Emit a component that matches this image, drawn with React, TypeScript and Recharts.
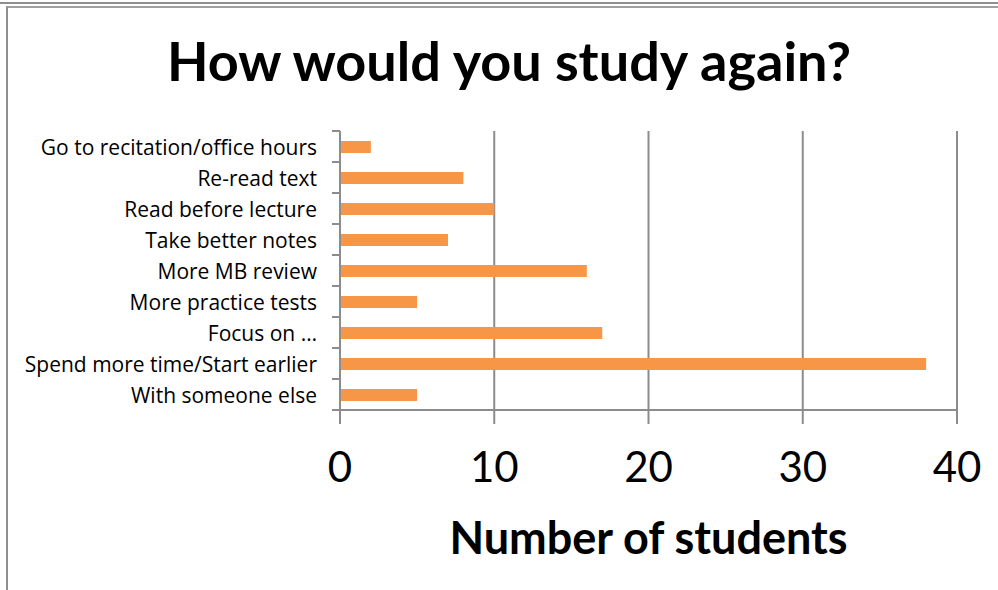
import React from "react";
import { BarChart, Bar, XAxis, YAxis, CartesianGrid } from "recharts";

const categories = [
  "Go to recitation/office hours",
  "Re-read text ",
  "Read before lecture",
  "Take better notes",
  "More MB review",
  "More practice tests",
  "Focus on …",
  "Spend more time/Start earlier",
  "With someone else",
];
const students = [2, 8, 10, 7, 16, 5, 17, 38, 5];
const xTicks = [0, 10, 20, 30, 40];

const TITLE = "How would you study again?";
const X_LABEL = "Number of students";

const data = categories.map((name, i) => ({ name, value: students[i] }));

const FONT = "Lato, 'Open Sans', sans-serif";
const LABEL_FONT = "'Open Sans', Lato, sans-serif";
const GRAY = "#8c8c8c";
const TICK_SIZE = 8;
const TICK_MARGIN = 15;

function CategoryTick(props: any) {
  const { x, y, payload, index, visibleTicksCount } = props;
  const half = payload && payload.offset ? payload.offset : 15.5;
  const lx1 = x + TICK_MARGIN;
  const lx2 = x + TICK_MARGIN + TICK_SIZE;
  const last = index === (visibleTicksCount ?? categories.length) - 1;
  return (
    <g>
      <line x1={lx1} x2={lx2} y1={y - half} y2={y - half} stroke={GRAY} strokeWidth={2} />
      {last && <line x1={lx1} x2={lx2} y1={y + half} y2={y + half} stroke={GRAY} strokeWidth={2} />}
      <text
        x={x}
        y={y}
        textAnchor="end"
        dominantBaseline="central"
        fill="#000"
        fontSize={21}
        fontFamily={LABEL_FONT}
      >
        {payload.value}
      </text>
    </g>
  );
}

export default function App() {
  return (
    <div
      style={{
        position: "absolute",
        left: 0,
        top: 0,
        width: 998,
        height: 590,
        background: "#fff",
        overflow: "hidden",
        fontFamily: FONT,
      }}
    >
      <div style={{ position: "absolute", left: 0, top: 2, width: 998, height: 2, background: "#8f8f8f" }} />
      <div
        style={{
          position: "absolute",
          left: 6,
          top: 6,
          width: 992,
          height: 584,
          borderTop: "2px solid #a0a0a0",
          borderLeft: "2px solid #8f8f8f",
          boxSizing: "border-box",
        }}
      />
      <div
        style={{
          position: "absolute",
          left: 0,
          top: 26,
          width: 1018,
          textAlign: "center",
          fontSize: 54,
          fontWeight: 700,
          color: "#000",
          lineHeight: "70px",
        }}
      >
        {TITLE}
      </div>
      <div
        style={{
          position: "absolute",
          left: 340,
          top: 509,
          width: 617,
          textAlign: "center",
          fontSize: 45,
          fontWeight: 700,
          color: "#000",
          lineHeight: "56px",
        }}
      >
        {X_LABEL}
      </div>
      <div style={{ position: "absolute", left: 0, top: 0 }}>
        <BarChart
          width={998}
          height={590}
          data={data}
          layout="vertical"
          margin={{ top: 131, right: 41, bottom: 80, left: 0 }}
          barCategoryGap={0}
        >
          <CartesianGrid horizontal={false} vertical stroke={GRAY} strokeWidth={2} />
          <XAxis
            type="number"
            domain={[0, 40]}
            ticks={xTicks}
            interval={0}
            height={100}
            tickSize={14}
            tickMargin={28}
            tick={{ fill: "#000", fontSize: 42, fontFamily: FONT }}
            axisLine={{ stroke: GRAY, strokeWidth: 2 }}
            tickLine={{ stroke: GRAY, strokeWidth: 2 }}
          />
          <YAxis
            type="category"
            dataKey="name"
            width={340}
            axisLine={{ stroke: GRAY, strokeWidth: 2 }}
            tickLine={false}
            tickSize={TICK_SIZE}
            tickMargin={TICK_MARGIN}
            interval={0}
            tick={<CategoryTick />}
          />
          <Bar dataKey="value" fill="#F79646" barSize={12} isAnimationActive={false} />
        </BarChart>
      </div>
    </div>
  );
}
